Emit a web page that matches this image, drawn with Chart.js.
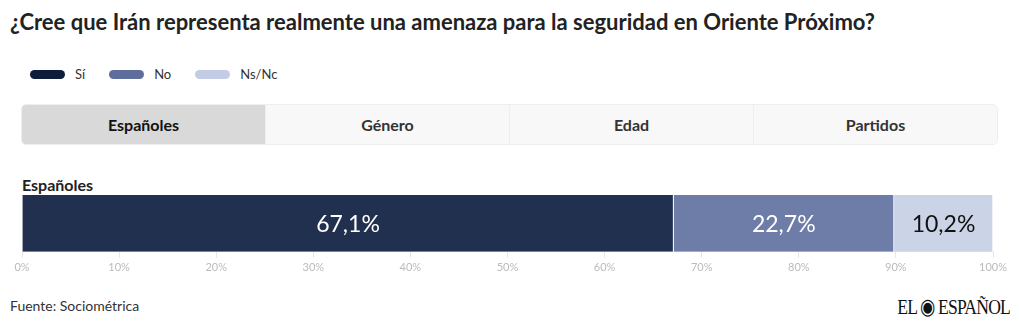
<!DOCTYPE html>
<html>
<head>
<meta charset="utf-8">
<script src="https://cdn.jsdelivr.net/npm/chart.js@4"></script>
<style>
    body { margin: 0; width: 1020px; height: 330px; background: #fff; font-family: Lato, 'Open Sans', sans-serif; position: relative; overflow: hidden; }
    h1 { position: absolute; left: 10px; top: 8px; margin: 0; font-size: 22px; font-weight: 700; color: #222; }
    #legend { position: absolute; left: 30px; top: 66px; display: flex; font-size: 13px; color: #333; }
    #legend .item { display: flex; align-items: center; margin-right: 24px; }
    #legend .swatch { width: 35px; height: 9px; border-radius: 5px; margin-right: 10px; }
    #tabs { position: absolute; left: 21px; top: 104px; width: 977px; height: 41px; display: flex; border: 1px solid #eee; border-radius: 5px; overflow: hidden; box-sizing: border-box; }
    #tabs div { flex: 1; display: flex; align-items: center; justify-content: center; font-weight: 700; font-size: 16px; color: #333; background: #f8f8f8; border-left: 1px solid #eee; }
    #tabs div:first-child { border-left: none; }
    #tabs div.active { background: #d9d9d9; color: #111; }
    #cat { position: absolute; left: 22px; top: 175px; font-size: 16px; font-weight: 700; color: #222; }
    #wrap { position: absolute; left: 0; top: 192px; width: 1020px; height: 90px; }
    #source { position: absolute; left: 10px; top: 297px; font-size: 14px; color: #333; }
    #logo { position: absolute; right: 10px; top: 294px; font-family: 'Liberation Serif', serif; font-size: 22px; color: #111; letter-spacing: -1px; transform: scaleX(0.8); transform-origin: right; }
</style>
</head>
<body>
<h1>¿Cree que Irán representa realmente una amenaza para la seguridad en Oriente Próximo?</h1>
<div id="legend"></div>
<div id="tabs"></div>
<div id="cat"></div>
<div id="wrap"><canvas id="myChart"></canvas></div>
<div id="source">Fuente: Sociométrica</div>
<div id="logo">EL ◉ ESPAÑOL</div>
<script>
const categories = ['Españoles'];
const series_names = ['Sí', 'No', 'Ns/Nc'];
const si_values = [67.1];
const no_values = [22.7];
const nsnc_values = [10.2];
const tab_labels = ['Españoles', 'Género', 'Edad', 'Partidos'];
const tick_values = [0, 10, 20, 30, 40, 50, 60, 70, 80, 90, 100];

const colors = ['#22304f', '#6e7ca8', '#cbd3e6'];
const legend_colors = ['#0f1d3d', '#5e6d9c', '#c3cce4'];
const label_colors = ['#fff', '#fff', '#111'];

const legend = document.getElementById('legend');
series_names.forEach((name, index) => {
    const item = document.createElement('div');
    item.className = 'item';
    item.innerHTML = `<span class="swatch" style="background:${legend_colors[index]}"></span>${name}`;
    legend.appendChild(item);
});

const tabs = document.getElementById('tabs');
tab_labels.forEach((label, index) => {
    const tab = document.createElement('div');
    tab.textContent = label;
    if (index === 0) tab.className = 'active';
    tabs.appendChild(tab);
});
document.getElementById('cat').textContent = categories[0];

const fmt = v => v.toFixed(1).replace('.', ',') + '%';

const value_labels = {
    id: 'value_labels',
    afterDatasetsDraw(chart) {
        const ctx = chart.ctx;
        ctx.save();
        ctx.font = '23px Lato, sans-serif';
        ctx.textAlign = 'center';
        ctx.textBaseline = 'middle';
        chart.data.datasets.forEach((dataset, i) => {
            chart.getDatasetMeta(i).data.forEach((bar, j) => {
                const x = (bar.x + bar.base) / 2;
                ctx.fillStyle = label_colors[i];
                ctx.fillText(fmt(dataset.data[j]), x, bar.y + 1);
            });
        });
        ctx.restore();
    }
};

const data = {
    labels: categories,
    datasets: [si_values, no_values, nsnc_values].map((values, index) => ({
        label: series_names[index],
        data: values,
        backgroundColor: colors[index],
        borderColor: '#fff',
        borderWidth: { left: 0, right: 1, top: 0, bottom: 0 },
        borderSkipped: false,
        barPercentage: 1,
        categoryPercentage: 1
    }))
};

new Chart(document.getElementById('myChart').getContext('2d'), {
    type: 'bar',
    data,
    plugins: [value_labels],
    options: {
        indexAxis: 'y',
        responsive: true,
        maintainAspectRatio: false,
        animation: false,
        layout: { padding: { left: 22, right: 27, top: 3, bottom: 5 } },
        plugins: {
            legend: { display: false },
            tooltip: { enabled: false }
        },
        scales: {
            x: {
                stacked: true,
                min: 0,
                max: 100,
                afterBuildTicks: scale => { scale.ticks = tick_values.map(v => ({ value: v })); },
                border: { color: '#efebe3' },
                grid: { drawOnChartArea: false, drawTicks: true, tickLength: 6, color: '#e6e6e6' },
                ticks: {
                    color: '#bbb',
                    font: { family: 'Lato, sans-serif', size: 11 },
                    padding: 3,
                    callback: v => v + '%'
                }
            },
            y: {
                stacked: true,
                display: false
            }
        }
    }
});
</script>
</body>
</html>
